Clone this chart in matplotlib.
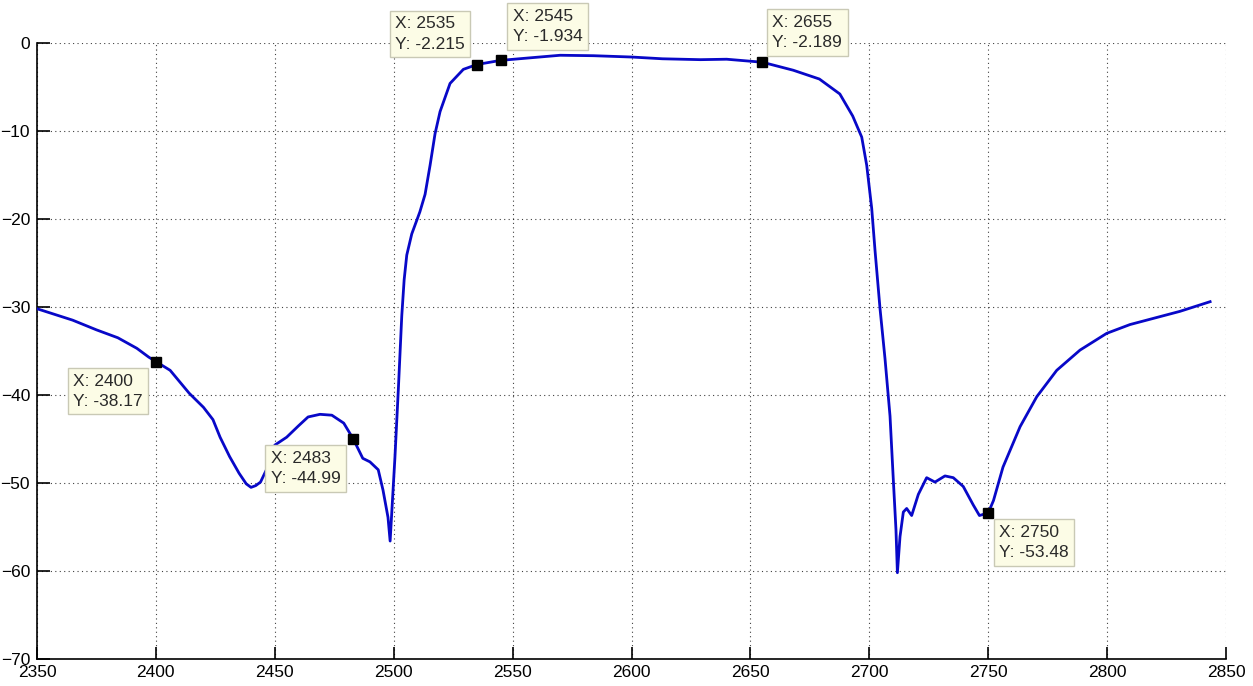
import numpy as np
import matplotlib.pyplot as plt

# traced filter response (frequency vs. gain)
freq = [2350, 2365, 2375, 2384, 2392, 2397, 2400, 2406, 2414, 2420, 2424, 2427,
        2431, 2435, 2438, 2440, 2442, 2444, 2447, 2450, 2455, 2460, 2464, 2469,
        2474, 2479, 2483, 2487, 2490, 2493.5, 2495.5, 2497.6, 2498.5, 2500.5,
        2502, 2503.4, 2504.4, 2505.5, 2507.6, 2511, 2513.2, 2515.3, 2517.4,
        2519.5, 2523.7, 2529.3, 2535, 2545, 2557, 2570, 2584, 2600, 2613, 2629,
        2640, 2651, 2655, 2668, 2679, 2687.6, 2693, 2696.8, 2698.9, 2701, 2702.4,
        2704.5, 2706.6, 2708.7, 2710, 2711.2, 2711.8, 2712.9, 2714.3, 2715.7,
        2717.8, 2720.6, 2724.1, 2727.6, 2731.8, 2735.3, 2739.5, 2743.7, 2746.3,
        2750, 2752.2, 2756.2, 2763.4, 2770.4, 2778.8, 2788.6, 2799.8, 2809.6,
        2822.2, 2830.6, 2843.3]
gain = [-30.2, -31.5, -32.6, -33.5, -34.7, -35.7, -36.2, -37.2, -39.8, -41.4, -42.8, -44.8,
        -47.0, -48.9, -50.1, -50.5, -50.3, -49.9, -48.2, -45.7, -44.8, -43.5, -42.5, -42.2,
        -42.3, -43.2, -45.0, -47.2, -47.6, -48.5, -50.8, -53.9, -56.6, -47.2,
        -39.1, -31.0, -26.9, -24.1, -21.7, -19.2, -17.2, -13.9, -10.3,
        -7.8, -4.6, -3.0, -2.45, -1.98, -1.7, -1.4, -1.45, -1.6, -1.8, -1.9,
        -1.85, -2.1, -2.19, -3.1, -4.1, -5.8, -8.3, -10.7, -13.9, -18.8, -23.6,
        -30.2, -35.9, -42.4, -49.2, -55.3, -60.2, -56.1, -53.3, -52.9,
        -53.7, -51.3, -49.4, -49.9, -49.2, -49.4, -50.4, -52.5, -53.7,
        -53.4, -52.0, -48.2, -43.6, -40.2, -37.2, -34.9, -33.0, -32.0,
        -31.1, -30.5, -29.4]

# data tips
tip_x = [2400, 2483, 2535, 2545, 2655, 2750]
tip_y = [-36.2, -45.0, -2.45, -1.98, -2.19, -53.4]
tip_text = ["X: 2400\nY: -38.17", "X: 2483\nY: -44.99", "X: 2535\nY: -2.215",
            "X: 2545\nY: -1.934", "X: 2655\nY: -2.189", "X: 2750\nY: -53.48"]
tip_off = [(-13, -12), (-13, -12), (-12, 13), (12, 16), (10, 12), (11, -12)]
tip_align = [("right", "top"), ("right", "top"), ("right", "bottom"),
             ("left", "bottom"), ("left", "bottom"), ("left", "top")]

plt.rcParams['font.family'] = ['Liberation Sans', 'DejaVu Sans']

fig = plt.figure(figsize=(12.53, 6.86), dpi=100)
ax = fig.add_axes([0.0295, 0.0394, 0.949, 0.898])

ax.plot(freq, gain, color="#0808c8", lw=2.0, zorder=3)
ax.plot(tip_x, tip_y, "s", color="black", ms=7, zorder=4)

for x, y, s, off, (ha, va) in zip(tip_x, tip_y, tip_text, tip_off, tip_align):
    ax.annotate(s, xy=(x, y), xytext=off, textcoords="offset pixels",
                ha=ha, va=va, multialignment="left", fontsize=12.5,
                color="#2a2a2a", linespacing=1.45, zorder=5,
                bbox=dict(boxstyle="square,pad=0.32", fc="#fcfce6", ec="#c9c9b5", lw=1))

ax.set_xlim(2350, 2850)
ax.set_ylim(-70, 0)
ax.set_xticks(np.arange(2350, 2851, 50))
ax.set_yticks(np.arange(-70, 1, 10))
ax.grid(True, color="black", linestyle=(0, (1, 3)), lw=0.8, alpha=0.75)
ax.spines["top"].set_visible(False)
ax.spines["right"].set_visible(False)
for sp in ("left", "bottom"):
    ax.spines[sp].set_linewidth(1.2)
ax.tick_params(direction="in", length=9, width=1.2, labelsize=12.5, pad=4)
ax.tick_params(axis="y", pad=5)

fig.savefig("out.png", dpi=100)
